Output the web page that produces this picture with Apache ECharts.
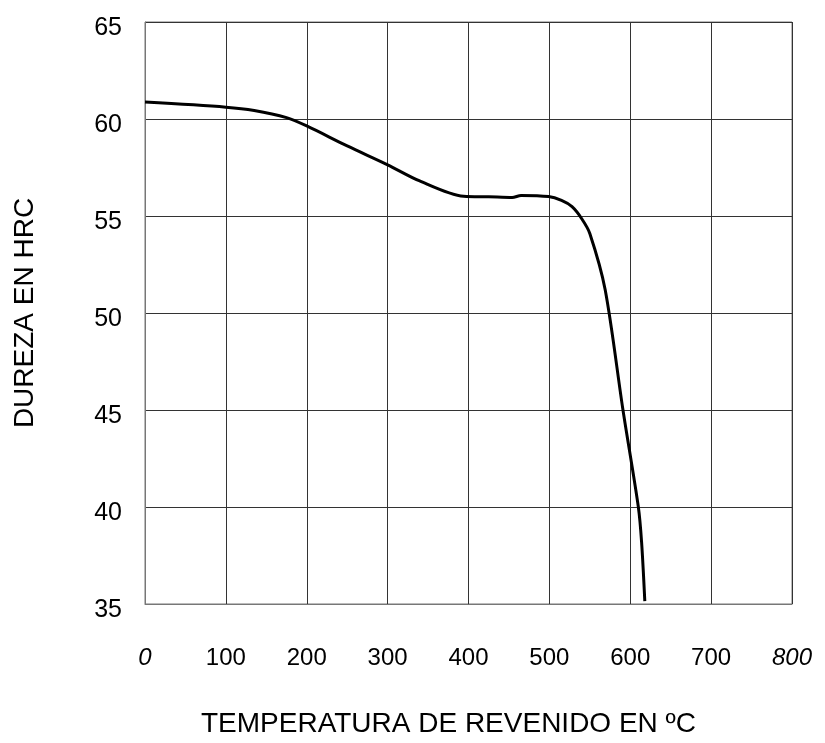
<!DOCTYPE html>
<html>
<head>
<meta charset="utf-8">
<script src="https://cdn.jsdelivr.net/npm/echarts@6/dist/echarts.min.js"></script>
<style>
html,body{margin:0;padding:0;background:#fff;}
#chart{width:825px;height:743px;}
</style>
</head>
<body>
<div id="chart"></div>
<script>
// Data
var temperature = [0, 100, 135, 175, 200, 250, 300, 339, 394, 425, 454, 465, 499, 515, 528, 540, 550, 569, 591, 610, 614, 618];
var hardness    = [60.87, 60.61, 60.44, 60.07, 59.64, 58.61, 57.64, 56.82, 56.02, 55.99, 55.95, 56.06, 56.0, 55.8, 55.48, 54.86, 54.1, 51.2, 45.0, 40.0, 38.2, 35.15];
var xTicks = [0, 100, 200, 300, 400, 500, 600, 700, 800];
var yTicks = [35, 40, 45, 50, 55, 60, 65];
var xTitle = 'TEMPERATURA DE REVENIDO EN ºC';
var yTitle = 'DUREZA EN HRC';

var points = temperature.map(function (t, i) { return [t, hardness[i]]; });
var font = '"Liberation Sans", Arial, sans-serif';

var chart = echarts.init(document.getElementById('chart'), null, {renderer: 'canvas'});
chart.setOption({
  backgroundColor: '#ffffff',
  animation: false,
  grid: {
    left: 145, right: 33, top: 22, bottom: 135,
    show: true, borderColor: '#777', borderWidth: 1
  },
  xAxis: {
    type: 'value',
    min: xTicks[0], max: xTicks[xTicks.length - 1], interval: xTicks[1] - xTicks[0],
    name: xTitle,
    nameLocation: 'middle',
    nameGap: 106,
    nameTextStyle: {fontFamily: font, fontSize: 28, color: '#000', padding: [0, 40, 0, 0]},
    axisLine: {show: true, lineStyle: {color: '#777', width: 1}},
    axisTick: {show: false},
    splitLine: {show: true, lineStyle: {color: '#333', width: 1}},
    axisLabel: {
      margin: 42,
      fontFamily: font, fontSize: 24, color: '#000',
      formatter: function (v) {
        return (v === xTicks[0] || v === xTicks[xTicks.length - 1]) ? '{i|' + v + '}' : String(v);
      },
      rich: {i: {fontStyle: 'italic', fontFamily: font, fontSize: 24, color: '#000'}}
    }
  },
  yAxis: {
    type: 'value',
    min: yTicks[0], max: yTicks[yTicks.length - 1], interval: yTicks[1] - yTicks[0],
    name: yTitle,
    nameLocation: 'middle',
    nameGap: 106,
    nameTextStyle: {fontFamily: font, fontSize: 28, color: '#000'},
    axisLine: {show: true, lineStyle: {color: '#777', width: 1}},
    axisTick: {show: false},
    splitLine: {show: true, lineStyle: {color: '#333', width: 1}},
    axisLabel: {
      margin: 23,
      fontFamily: font, fontSize: 25, color: '#000',
      formatter: function (v) { return '{a|' + v + '}'; },
      rich: {a: {fontFamily: font, fontSize: 25, color: '#000', padding: [12, 0, 0, 0]}}
    }
  },
  series: [{
    type: 'line',
    data: points,
    smooth: 0.3,
    showSymbol: false,
    symbol: 'none',
    lineStyle: {color: '#000', width: 3}
  }]
});
</script>
</body>
</html>
